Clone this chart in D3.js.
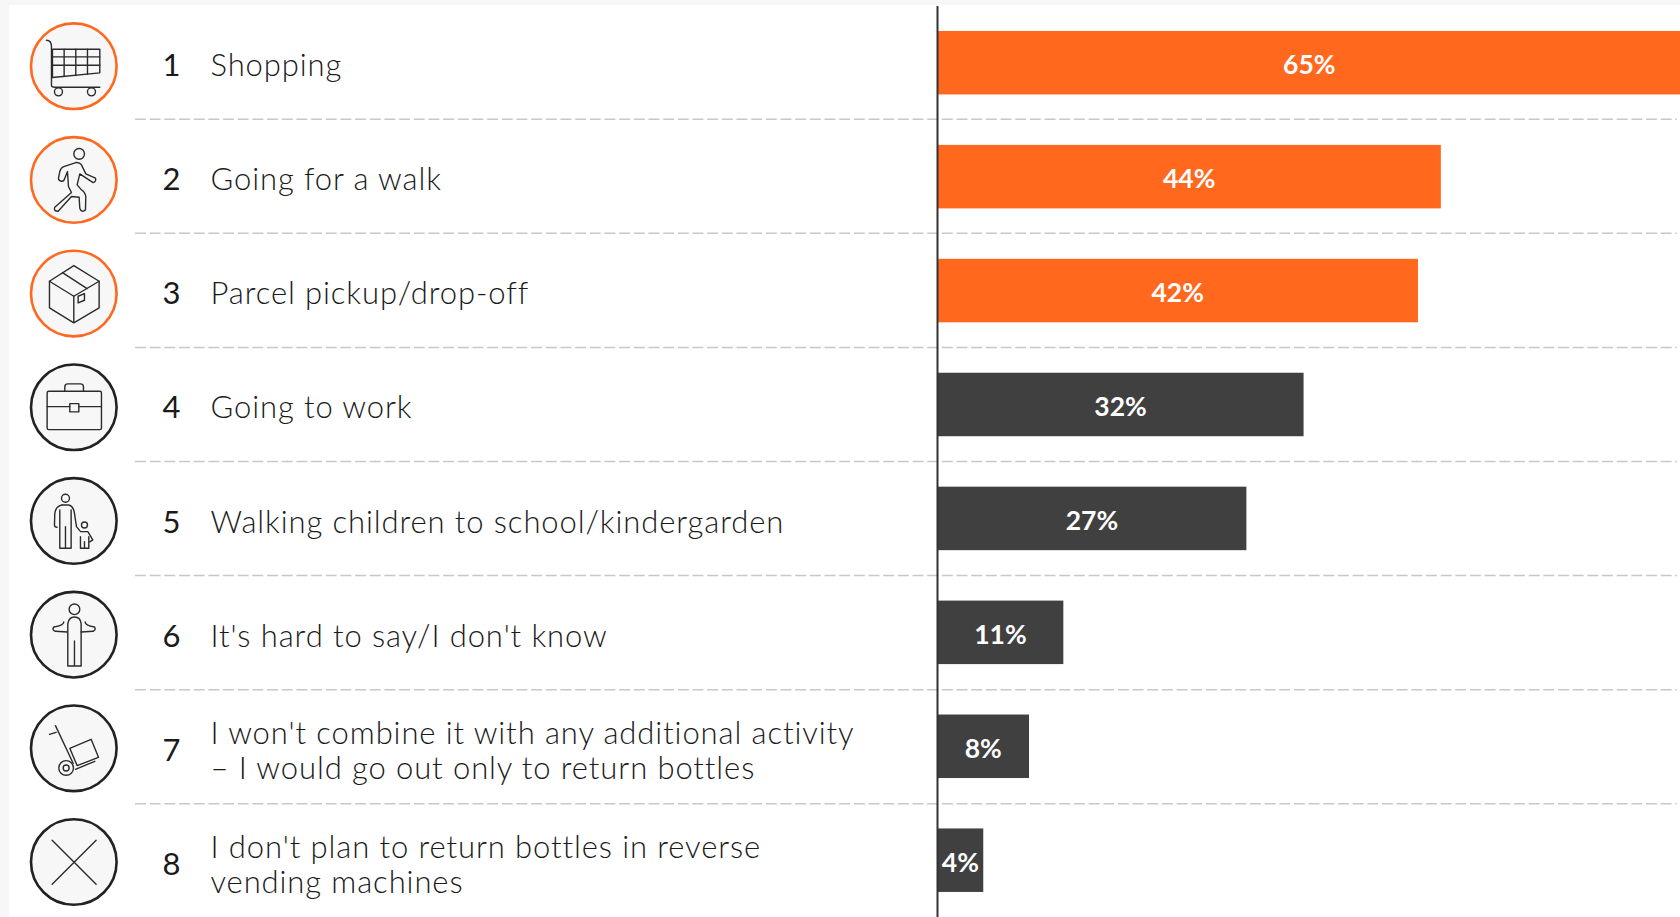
<!DOCTYPE html>
<html>
<head>
<meta charset="utf-8">
<script src="https://cdn.jsdelivr.net/npm/d3@7"></script>
<style>
html,body{margin:0;padding:0;background:#f7f7f7;overflow:hidden}
svg{display:block}
</style>
</head>
<body>
<script>
// Activities people would combine with returning bottles
const ranks = [1, 2, 3, 4, 5, 6, 7, 8];
const labelLines = [
  ["Shopping"],
  ["Going for a walk"],
  ["Parcel pickup/drop-off"],
  ["Going to work"],
  ["Walking children to school/kindergarden"],
  ["It's hard to say/I don't know"],
  ["I won't combine it with any additional activity", "– I would go out only to return bottles"],
  ["I don't plan to return bottles in reverse", "vending machines"]
];
const shares = [65, 44, 42, 32, 27, 11, 8, 4];
const highlighted = [true, true, true, false, false, false, false, false];

const orange = "#ff681d", dark = "#404040", ink = "#1a1a1a";

// Line icons, authored on a 3x grid around the circle centre
const icons = [
  { o: [222, 198], paths: [
      "M140,120 Q155,120 155,140 V255 Q155,261 165,261 H300",
      "M158,147 H300 V218 L158,232 Z",
      "M158,170 H300 M158,195 H300 M193,147 V228 M228,147 V226 M263,147 V222"
    ], circles: [[176, 275, 12], [275, 275, 12]] },
  { o: [222, 540], paths: [
      "M228,488 L192,500 Q183,503 180,515 L176,535 Q176,543 185,544 Q192,545 195,535 L203,515 L206,560 L215,578 L165,622 Q160,634 175,634 L215,590 L238,592 L240,625 Q245,640 257,630 L258,590 Q255,575 245,570 L232,555 L240,522 L280,548 Q290,545 287,535 L258,522 L245,495 Q240,487 228,488 Z"
    ], circles: [[238, 462, 16]] },
  { o: [222, 880], paths: [
      "M222,796 L298,843 L222,888 L149,843 Z",
      "M149,843 V923 L222,968 L298,923 V843 M222,888 V968",
      "M188,817 L262,865",
      "M235,888 L254,880 V900 L235,908 Z"
    ], circles: [] },
  { o: [220, 201], paths: [
      "M145,153 H298 Q303,153 303,158 V263 Q303,268 298,268 H145 Q140,268 140,263 V158 Q140,153 145,153 Z",
      "M193,153 V140 Q193,131 202,131 H240 Q249,131 249,140 V153",
      "M140,199 H208 M235,199 H303",
      "M208,190 H235 V215 H208 Z"
    ], circles: [] },
  { o: [220, 543], paths: [
      "M178,625 V510 M212,625 V510 M178,625 H212 M195,560 V625",
      "M185,495 Q165,500 163,520 L162,555 Q162,562 170,562",
      "M185,495 H205 Q220,500 222,520 L228,560 L238,572",
      "M240,625 V590 M265,625 V590 M240,625 H265 M252,605 V625",
      "M240,575 H262 L277,600 L268,606"
    ], circles: [[195, 475, 12], [252, 555, 9]] },
  { o: [220, 193], paths: [
      "M202,287 V160 Q205,140 222,140 Q240,140 242,160 V287 M202,287 H242 M222,212 V287",
      "M190,155 Q190,165 160,170 Q153,178 165,183 L200,185",
      "M254,155 Q254,165 282,170 Q288,178 278,183 L242,185"
    ], circles: [[222, 117, 16]] },
  { o: [220, 535], paths: [
      "M147,493 L167,487 M165,467 L218,580",
      "M208,535 L272,508 L294,562 L230,587 Z",
      "M225,598 L283,574"
    ], circles: [[197, 594, 22], [197, 594, 9]] },
  { o: [220, 875], paths: [
      "M155,810 L287,942 M287,810 L155,942"
    ], circles: [] }
];

const width = 1680, height = 917;
const panelLeft = 9, panelTop = 5;

const svg = d3.select("body").append("svg")
  .attr("width", width).attr("height", height);

svg.append("rect")
  .attr("x", panelLeft).attr("y", panelTop)
  .attr("width", width - panelLeft).attr("height", height - panelTop)
  .attr("fill", "#fff");

// Shares grow rightwards from the baseline
const x = d3.scaleLinear().domain([0, 65]).range([937.5, 937.5 + 65 * 11.44]);

// Row centres for each layer of the table
const barY = d3.scalePoint().domain(ranks).range([62.7, 860.2]);
const textY = d3.scalePoint().domain(ranks).range([65, 864.5]);
const badgeY = d3.scalePoint().domain(ranks).range([66.2, 862]);
const ruleY = d3.scalePoint().domain(ranks).range([119.2, 917.9]);
const barH = 63.5;

// Row separators
svg.append("g").selectAll("line").data(ranks.slice(0, -1)).join("line")
  .attr("x1", 135).attr("x2", 1677)
  .attr("y1", r => ruleY(r))
  .attr("y2", r => ruleY(r))
  .attr("stroke", "#c8c8c8").attr("stroke-width", 1.5)
  .attr("stroke-dasharray", "11 3.67");

// Bars
svg.append("g").selectAll("rect").data(ranks).join("rect")
  .attr("x", x(0))
  .attr("y", r => barY(r) - barH / 2)
  .attr("width", (r, i) => x(shares[i]) - x(0))
  .attr("height", barH)
  .attr("fill", (r, i) => highlighted[i] ? orange : dark);

// Baseline
svg.append("line")
  .attr("x1", x(0)).attr("x2", x(0))
  .attr("y1", panelTop + 1).attr("y2", height)
  .attr("stroke", "#333").attr("stroke-width", 2);

// Value labels, centred on each bar
svg.append("g").selectAll("text").data(ranks).join("text")
  .attr("x", (r, i) => (x(0) + x(shares[i])) / 2)
  .attr("y", r => barY(r) + 2.5)
  .attr("dy", "0.35em")
  .attr("text-anchor", "middle")
  .attr("fill", "#fff")
  .attr("font-family", "Lato, sans-serif")
  .attr("font-weight", 700)
  .attr("font-size", 26.5)
  .text((r, i) => shares[i] + "%");

// Rank numbers
svg.append("g").selectAll("text").data(ranks).join("text")
  .attr("x", 171.5)
  .attr("y", r => textY(r))
  .attr("dy", "0.35em")
  .attr("text-anchor", "middle")
  .attr("fill", ink)
  .attr("font-family", "Lato, sans-serif")
  .attr("font-size", 31)
  .text(r => r);

// Row labels, one or two lines
const lineGap = 35;
const labels = svg.append("g").selectAll("text").data(ranks).join("text")
  .attr("fill", ink)
  .attr("font-family", "Lato, sans-serif")
  .attr("font-weight", 300)
  .attr("font-size", 31)
  .attr("letter-spacing", 0.9);
labels.each(function (r, i) {
  const lines = labelLines[i];
  d3.select(this).selectAll("tspan").data(lines).join("tspan")
    .attr("x", 210.5)
    .attr("y", (d, k) => textY(r) + (k - (lines.length - 1) / 2) * lineGap)
    .attr("dy", "0.35em")
    .text(d => d);
});

// Badges with icons
const badges = svg.append("g").selectAll("g").data(ranks).join("g")
  .attr("transform", r => `translate(73.8,${badgeY(r)})`);
badges.append("circle")
  .attr("r", 42.8)
  .attr("fill", "#f7f7f7")
  .attr("stroke", (r, i) => highlighted[i] ? orange : "#222")
  .attr("stroke-width", 2.6);
const glyphs = badges.append("g")
  .attr("transform", (r, i) => `scale(${1 / 3}) translate(${-icons[i].o[0]},${-icons[i].o[1]})`)
  .attr("fill", "none")
  .attr("stroke", "#2b2b2b")
  .attr("stroke-width", 4.2)
  .attr("stroke-linejoin", "round")
  .attr("stroke-linecap", "round");
glyphs.selectAll("path").data((r, i) => icons[i].paths).join("path").attr("d", d => d);
glyphs.selectAll("circle").data((r, i) => icons[i].circles).join("circle")
  .attr("cx", d => d[0]).attr("cy", d => d[1]).attr("r", d => d[2]);
</script>
</body>
</html>
